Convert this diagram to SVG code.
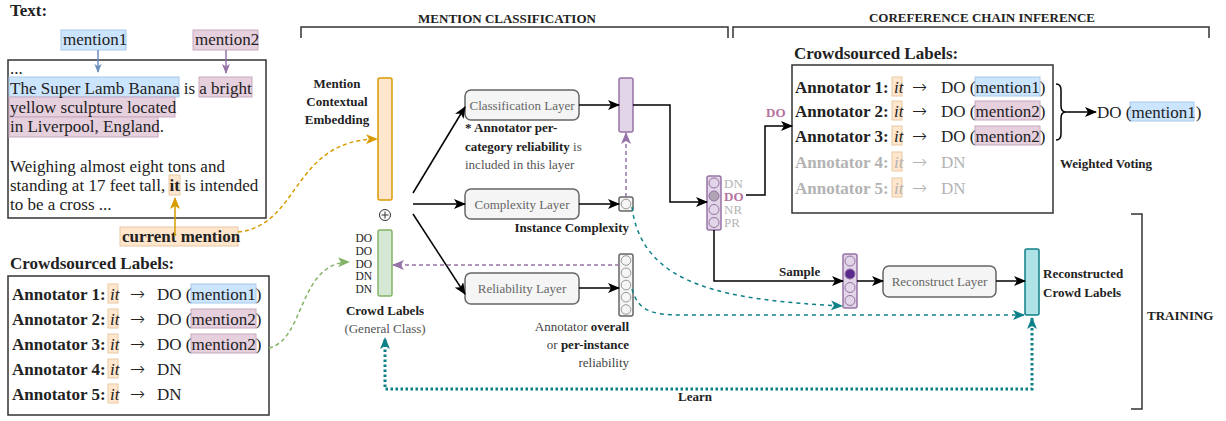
<svg xmlns="http://www.w3.org/2000/svg" width="1226" height="421" viewBox="0 0 1226 421">
<style>
text{font-family:"Liberation Serif","Times New Roman",serif;fill:#222}
.b17{font-size:17px;font-weight:bold}
.r17{font-size:17px}
text.ar{font-family:"DejaVu Sans",sans-serif;font-size:18px;font-weight:200}
.b13{font-size:13px;font-weight:bold}
.r13{font-size:13px}
.lay{font-size:13px;fill:#666;text-anchor:middle}
.box{fill:#fff;stroke:#333;stroke-width:1.5}
.layer{fill:#f5f5f5;stroke:#666;stroke-width:1.5}
.hb{fill:#cce5ff;stroke:#a9c8e8;stroke-width:1}
.hp{fill:#e6d0de;stroke:#c9a9bf;stroke-width:1}
.ho{fill:#ffe6cc;stroke:#e8c9a4;stroke-width:1}
.conn{fill:none;stroke:#000;stroke-width:1.5}
.pc{fill:none;stroke:#9673a6;stroke-width:1}
.gc{fill:#f5f5f5;stroke:#999;stroke-width:1}
.br{fill:none;stroke:#333;stroke-width:1.5}
</style>
<defs>
<marker id="ab" viewBox="0 0 12 10" refX="11" refY="5" markerWidth="12" markerHeight="10" orient="auto" markerUnits="userSpaceOnUse"><path d="M0,0 L12,5 L0,10 L3,5 Z" fill="#000"/></marker>
<marker id="at" viewBox="0 0 12 10" refX="11" refY="5" markerWidth="12" markerHeight="10" orient="auto-start-reverse" markerUnits="userSpaceOnUse"><path d="M0,0 L12,5 L0,10 L3,5 Z" fill="#0e8088"/></marker>
<marker id="ap" viewBox="0 0 12 10" refX="11" refY="5" markerWidth="12" markerHeight="10" orient="auto" markerUnits="userSpaceOnUse"><path d="M0,0 L12,5 L0,10 L3,5 Z" fill="#9673a6"/></marker>
<marker id="ao" viewBox="0 0 12 10" refX="11" refY="5" markerWidth="12" markerHeight="10" orient="auto" markerUnits="userSpaceOnUse"><path d="M0,0 L12,5 L0,10 L3,5 Z" fill="#d79b00"/></marker>
<marker id="ag" viewBox="0 0 12 10" refX="11" refY="5" markerWidth="12" markerHeight="10" orient="auto" markerUnits="userSpaceOnUse"><path d="M0,0 L12,5 L0,10 L3,5 Z" fill="#82b366"/></marker>
<marker id="abl" viewBox="0 0 10 8" refX="9" refY="4" markerWidth="9" markerHeight="8" orient="auto" markerUnits="userSpaceOnUse"><path d="M0,0 L10,4 L0,8 L2.5,4 Z" fill="#6c8ebf"/></marker>
<marker id="apu" viewBox="0 0 10 8" refX="9" refY="4" markerWidth="10" markerHeight="9" orient="auto" markerUnits="userSpaceOnUse"><path d="M0,0 L10,4 L0,8 L2.5,4 Z" fill="#9673a6"/></marker>
</defs>
<rect width="1226" height="421" fill="#fff"/>

<g id="headers">
<text class="b13" x="507" y="23" text-anchor="middle">MENTION CLASSIFICATION</text>
<path class="br" d="M301 38 L301 27 L728 27 L728 38"/>
<text class="b13" x="982" y="22" text-anchor="middle">COREFERENCE CHAIN INFERENCE</text>
<path class="br" d="M733 38 L733 27 L1209 27 L1209 38"/>
<path class="br" d="M1131 214 L1142 214 L1142 409 L1131 409"/>
<text class="b13" x="1147" y="320">TRAINING</text>
</g>

<g id="text-node">
<text class="b17" x="10" y="16">Text:</text>
<rect class="hb" x="61" y="30" width="65" height="20"/>
<text class="r17" x="63" y="45">mention1</text>
<rect class="hp" x="193" y="30" width="65" height="20"/>
<text class="r17" x="195" y="45">mention2</text>
<rect class="box" x="8" y="60" width="258" height="158"/>
<rect class="hb" x="9" y="77" width="170" height="20"/>
<rect class="hp" x="199" y="77" width="53" height="20"/>
<rect class="hp" x="9" y="97" width="166" height="20"/>
<rect class="hp" x="9" y="117" width="149" height="20"/>
<rect class="ho" x="169" y="175" width="11" height="20"/>
<text class="r17" x="10" y="74">...</text>
<text class="r17" x="10" y="94">The Super Lamb Banana is a bright</text>
<text class="r17" x="10" y="113">yellow sculpture located</text>
<text class="r17" x="10" y="132">in Liverpool, England.</text>
<text class="r17" x="10" y="172">Weighing almost eight tons and</text>
<text class="r17" x="10" y="191">standing at 17 feet tall, <tspan font-weight="bold">it</tspan> is intended</text>
<text class="r17" x="10" y="210">to be a cross ...</text>
</g>

<g id="current-mention">
<rect class="ho" x="120" y="227" width="118" height="19"/>
<text class="b17" x="122" y="242">current mention</text>
</g>

<g id="crowd-left">
<text class="b17" x="10" y="269">Crowdsourced Labels:</text>
<rect class="box" x="8" y="276" width="261" height="139"/>
<rect class="ho" x="108" y="284" width="10" height="19"/>
<rect class="hb" x="191" y="284" width="65" height="19"/>
<rect class="ho" x="108" y="309" width="10" height="19"/>
<rect class="hp" x="191" y="309" width="65" height="19"/>
<rect class="ho" x="108" y="334" width="10" height="19"/>
<rect class="hp" x="191" y="334" width="65" height="19"/>
<rect class="ho" x="108" y="359" width="10" height="19"/>
<rect class="ho" x="108" y="384" width="10" height="19"/>
<text class="b17" x="12" y="300">Annotator 1:</text><text class="r17" x="110" y="300" font-style="italic">it</text><text class="ar" x="130" y="300">→</text><text class="r17" x="157" y="300">DO (mention1)</text>
<text class="b17" x="12" y="325">Annotator 2:</text><text class="r17" x="110" y="325" font-style="italic">it</text><text class="ar" x="130" y="325">→</text><text class="r17" x="157" y="325">DO (mention2)</text>
<text class="b17" x="12" y="350">Annotator 3:</text><text class="r17" x="110" y="350" font-style="italic">it</text><text class="ar" x="130" y="350">→</text><text class="r17" x="157" y="350">DO (mention2)</text>
<text class="b17" x="12" y="375">Annotator 4:</text><text class="r17" x="110" y="375" font-style="italic">it</text><text class="ar" x="130" y="375">→</text><text class="r17" x="157" y="375">DN</text>
<text class="b17" x="12" y="400">Annotator 5:</text><text class="r17" x="110" y="400" font-style="italic">it</text><text class="ar" x="130" y="400">→</text><text class="r17" x="157" y="400">DN</text>
</g>

<g id="embedding">
<text class="b13" x="337" y="88" text-anchor="middle">Mention</text>
<text class="b13" x="337" y="106" text-anchor="middle">Contextual</text>
<text class="b13" x="337" y="124" text-anchor="middle">Embedding</text>
<rect x="378" y="78" width="14" height="122" rx="2" fill="#ffe6cc" stroke="#d79b00" stroke-width="1.5"/>
</g>
<g id="plus">
<circle cx="385" cy="215" r="5.5" fill="#fff" stroke="#333" stroke-width="1"/>
<path d="M381.5 215 H388.5 M385 211.5 V218.5" stroke="#333" stroke-width="1"/>
</g>
<g id="crowd-labels-bar">
<rect x="378" y="230" width="14" height="66" rx="2" fill="#d5e8d4" stroke="#82b366" stroke-width="1.5"/>
<text text-anchor="end" style="font-size:11.5px"><tspan x="372" y="242">DO</tspan><tspan x="372" y="254.8">DO</tspan><tspan x="372" y="267.6">DO</tspan><tspan x="372" y="280.4">DN</tspan><tspan x="372" y="293.2">DN</tspan></text>
<text class="b13" x="385" y="315" text-anchor="middle">Crowd Labels</text>
<text class="r13" x="385" y="333" text-anchor="middle" style="fill:#555">(General Class)</text>
</g>

<g id="classification-layer">
<rect class="layer" x="465" y="90" width="114" height="30" rx="6"/>
<text class="lay" x="522" y="109.5">Classification Layer</text>
<text class="b13" x="465" y="132">* Annotator per-</text>
<text class="b13" x="465" y="151">category reliability <tspan font-weight="normal" style="fill:#555">is</tspan></text>
<text class="r13" x="465" y="169" style="fill:#555">included in this layer</text>
</g>
<g id="complexity-layer">
<rect class="layer" x="465" y="189" width="114" height="30" rx="6"/>
<text class="lay" x="522" y="208.5">Complexity Layer</text>
</g>
<g id="reliability-layer">
<rect class="layer" x="465" y="273" width="114" height="31" rx="6"/>
<text class="lay" x="522" y="292.5">Reliability Layer</text>
</g>

<g id="class-output">
<rect x="619" y="78" width="14" height="54" rx="2" fill="#e1d5e7" stroke="#9673a6" stroke-width="1.5"/>
</g>
<g id="complexity-output">
<rect x="619" y="197" width="14" height="14" rx="2" fill="#f5f5f5" stroke="#666" stroke-width="1.5"/>
<circle class="gc" cx="626" cy="204" r="4.8"/>
<text class="b13" x="629" y="232" text-anchor="end">Instance Complexity</text>
</g>
<g id="reliability-output">
<rect x="619" y="254" width="14" height="62" rx="2" fill="#f5f5f5" stroke="#666" stroke-width="1.5"/>
<circle class="gc" cx="626" cy="260.5" r="4.8"/>
<circle class="gc" cx="626" cy="272.8" r="4.8"/>
<circle class="gc" cx="626" cy="285" r="4.8"/>
<circle class="gc" cx="626" cy="297.2" r="4.8"/>
<circle class="gc" cx="626" cy="309.5" r="4.8"/>
<text class="r13" x="629" y="331" text-anchor="end" style="fill:#444">Annotator <tspan font-weight="bold" style="fill:#222">overall</tspan></text>
<text class="r13" x="629" y="349" text-anchor="end" style="fill:#444">or <tspan font-weight="bold" style="fill:#222">per-instance</tspan></text>
<text class="r13" x="629" y="367" text-anchor="end" style="fill:#444">reliability</text>
</g>

<g id="class-probs">
<rect x="707" y="176" width="14" height="54" rx="2" fill="#e1d5e7" stroke="#9673a6" stroke-width="1.5"/>
<circle class="pc" cx="714" cy="183" r="5"/>
<circle cx="714" cy="196" r="5" fill="#b0a4b5" stroke="#9673a6" stroke-width="1"/>
<circle class="pc" cx="714" cy="209.5" r="5"/>
<circle class="pc" cx="714" cy="222.5" r="5"/>
<text class="r13"><tspan x="724" y="188" style="fill:#b3b3b3">DN</tspan><tspan x="724" y="201" font-weight="bold" style="fill:#b5739d">DO</tspan><tspan x="724" y="214" style="fill:#b3b3b3">NR</tspan><tspan x="724" y="227" style="fill:#b3b3b3">PR</tspan></text>
</g>

<g id="crowd-right">
<text class="b17" x="794" y="59">Crowdsourced Labels:</text>
<rect class="box" x="792" y="65" width="261" height="148"/>
<rect class="ho" x="892" y="77" width="10" height="19"/>
<rect class="hb" x="975" y="77" width="65" height="19"/>
<rect class="ho" x="892" y="101" width="10" height="19"/>
<rect class="hp" x="975" y="101" width="65" height="19"/>
<rect class="ho" x="892" y="126" width="10" height="19"/>
<rect class="hp" x="975" y="126" width="65" height="19"/>
<rect class="ho" x="892" y="152" width="10" height="19"/>
<rect class="ho" x="892" y="178" width="10" height="19"/>
<text class="b17" x="795" y="93">Annotator 1:</text><text class="r17" x="894" y="93" font-style="italic">it</text><text class="ar" x="912" y="93">→</text><text class="r17" x="941" y="93">DO (mention1)</text>
<text class="b17" x="795" y="117">Annotator 2:</text><text class="r17" x="894" y="117" font-style="italic">it</text><text class="ar" x="912" y="117">→</text><text class="r17" x="941" y="117">DO (mention2)</text>
<text class="b17" x="795" y="142">Annotator 3:</text><text class="r17" x="894" y="142" font-style="italic">it</text><text class="ar" x="912" y="142">→</text><text class="r17" x="941" y="142">DO (mention2)</text>
<text class="b17" x="795" y="168" style="fill:#b3b3b3">Annotator 4:</text><text class="r17" x="894" y="168" font-style="italic" style="fill:#b3b3b3">it</text><text class="ar" x="912" y="168" style="fill:#b3b3b3">→</text><text class="r17" x="941" y="168" style="fill:#b3b3b3">DN</text>
<text class="b17" x="795" y="194" style="fill:#b3b3b3">Annotator 5:</text><text class="r17" x="894" y="194" font-style="italic" style="fill:#b3b3b3">it</text><text class="ar" x="912" y="194" style="fill:#b3b3b3">→</text><text class="r17" x="941" y="194" style="fill:#b3b3b3">DN</text>
</g>

<g id="vote-result">
<path class="conn" d="M1056 84 Q1061 84 1061 90 L1061 106 Q1061 112 1066 112 Q1061 112 1061 118 L1061 134 Q1061 140 1056 140"/>
<rect class="hb" x="1130" y="102" width="64" height="19"/>
<text class="r17" x="1097" y="118">DO (mention1)</text>
<text class="b13" x="1060" y="168">Weighted Voting</text>
</g>

<g id="sample">
<rect x="843" y="254" width="14" height="54" rx="2" fill="#e1d5e7" stroke="#9673a6" stroke-width="1.5"/>
<circle class="pc" cx="850" cy="261" r="5"/>
<circle cx="850" cy="274" r="5" fill="#5b2a8e" stroke="#9673a6" stroke-width="1"/>
<circle class="pc" cx="850" cy="287.5" r="5"/>
<circle class="pc" cx="850" cy="300.5" r="5"/>
<text class="b13" x="779" y="276">Sample</text>
</g>
<g id="reconstruct-layer">
<rect class="layer" x="883" y="266" width="113" height="31" rx="6"/>
<text class="lay" x="939.5" y="285.5">Reconstruct Layer</text>
</g>
<g id="reconstructed">
<rect x="1025" y="249" width="14" height="66" rx="2" fill="#b0e3e6" stroke="#0e8088" stroke-width="1.5"/>
<text class="b13" x="1043" y="278">Reconstructed</text>
<text class="b13" x="1043" y="297">Crowd Labels</text>
</g>

<g id="connectors">
<path d="M98 50 L98 72" stroke="#6c8ebf" stroke-width="1.5" fill="none" marker-end="url(#abl)"/>
<path d="M226 50 L226 73" stroke="#9673a6" stroke-width="1.5" fill="none" marker-end="url(#apu)"/>
<path d="M175 236 L175 198" stroke="#d79b00" stroke-width="1.5" fill="none" marker-end="url(#ao)"/>
<path d="M238 232 C300 226 292 140 377 139" stroke="#d79b00" stroke-width="1.5" stroke-dasharray="4,3" fill="none" marker-end="url(#ao)"/>
<path d="M269 348 C305 340 298 263 349 262" stroke="#82b366" stroke-width="1.5" stroke-dasharray="4,3" fill="none" marker-end="url(#ag)"/>
<path class="conn" d="M413 193 L465 107" marker-end="url(#ab)"/>
<path class="conn" d="M413 204 L465 204" marker-end="url(#ab)"/>
<path class="conn" d="M413 214 L465 294" marker-end="url(#ab)"/>
<path class="conn" d="M579 105 L619 105" marker-end="url(#ab)"/>
<path class="conn" d="M579 204 L619 204" marker-end="url(#ab)"/>
<path class="conn" d="M579 288 L619 288" marker-end="url(#ab)"/>
<path d="M626 197 L626 133" stroke="#9673a6" stroke-width="1.5" stroke-dasharray="4,3" fill="none" marker-end="url(#ap)"/>
<path d="M619 265 L393 265" stroke="#9673a6" stroke-width="1.5" stroke-dasharray="4,3" fill="none" marker-end="url(#ap)"/>
<path class="conn" d="M633 105 L670 105 L670 202 L707 202" marker-end="url(#ab)"/>
<path class="conn" d="M746 195 L765 195 L765 126 L792 126" marker-end="url(#ab)"/>
<text class="b13" x="766" y="117" style="fill:#b5739d">DO</text>
<path class="conn" d="M1066 112 L1096 112" marker-end="url(#ab)"/>
<path class="conn" d="M714 230 L714 281 L843 281" marker-end="url(#ab)"/>
<path class="conn" d="M857 281 L883 281" marker-end="url(#ab)"/>
<path class="conn" d="M996 281 L1025 281" marker-end="url(#ab)"/>
<path d="M632 207 C642 288 730 300 842 306" stroke="#0e8088" stroke-width="1.5" stroke-dasharray="4,4" fill="none" marker-end="url(#at)"/>
<path d="M632 289 C638 310 650 315 682 315 L1024 315" stroke="#0e8088" stroke-width="1.5" stroke-dasharray="4,4" fill="none" marker-end="url(#at)"/>
<path d="M1032 318 L1032 389 L385 389 L385 338" stroke="#0e8088" stroke-width="3" stroke-dasharray="2.5,2.5" fill="none" marker-start="url(#at)" marker-end="url(#at)"/>
<text class="b13" x="678" y="401">Learn</text>
</g>
</svg>
